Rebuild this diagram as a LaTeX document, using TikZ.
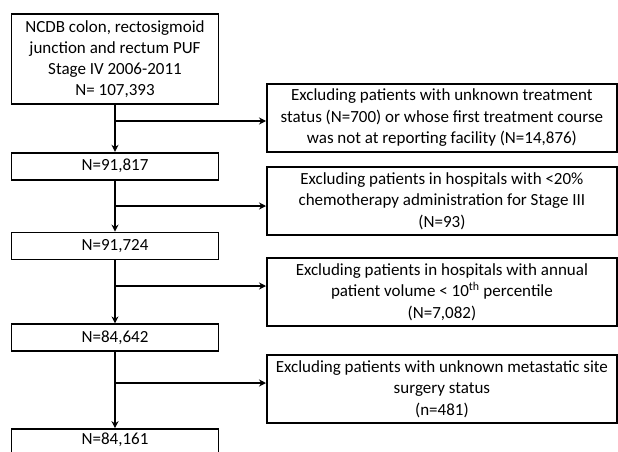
\documentclass[tikz,border=0pt]{standalone}
\usepackage{fontspec}
\setmainfont{Carlito}
\usepackage{tikz}
\usetikzlibrary{positioning,arrows.meta}

\begin{document}
\begin{tikzpicture}[x=1pt, y=-1pt,
  flowbox/.style={draw, line width=1.8pt, minimum width=207pt, minimum height=27pt, align=center, inner sep=1pt, font=\fontsize{17}{21}\selectfont},
  exbox/.style={draw, line width=1.8pt, minimum width=350pt, minimum height=68pt, align=center, inner sep=1pt, font=\fontsize{17}{21.5}\selectfont},
  arr/.style={-{Stealth[length=7pt, width=7pt]}, line width=1.8pt}]
  \useasboundingbox (0,0) rectangle (618,452);
  % main column
  \node[flowbox, minimum height=90pt, anchor=north] (n0) at (115,13) {NCDB colon, rectosigmoid\\junction and rectum PUF\\Stage IV 2006-2011\\N= 107,393};
  \node[flowbox, below=47pt of n0] (n1) {N=91,817};
  \node[flowbox, below=51pt of n1] (n2) {N=91,724};
  \node[flowbox, below=63pt of n2] (n3) {N=84,642};
  \node[flowbox, text height=13.5pt, text depth=10.5pt, below=76pt of n3] (n4) {N=84,161};
  % exclusions
  \node[exbox, anchor=north west] (ex1) at (266,83) {Excluding patients with unknown treatment\\status (N=700) or whose first treatment course\\was not at reporting facility (N=14,876)};
  \node[exbox, anchor=north west] (ex2) at (266,166) {Excluding patients in hospitals with <20\%\\chemotherapy administration for Stage III\\(N=93)};
  \node[exbox, anchor=north west] (ex3) at (266,257) {Excluding patients in hospitals with annual\\patient volume < 10\textsuperscript{th} percentile\\(N=7,082)};
  \node[exbox, anchor=north west] (ex4) at (266,354) {Excluding patients with unknown metastatic site\\surgery status\\(n=481)};
  % branch points
  \coordinate (b1) at (n0.south |- 0,121);
  \coordinate (b2) at (n1.south |- 0,206);
  \coordinate (b3) at (n2.south |- 0,286);
  \coordinate (b4) at (n3.south |- 0,383);
  \draw[arr] (n0) -- (n1);
  \draw[arr] (n1) -- (n2);
  \draw[arr] (n2) -- (n3);
  \draw[arr] (n3) -- (n4);
  \draw[arr] (b1) -- (b1 -| ex1.west);
  \draw[arr] (b2) -- (b2 -| ex2.west);
  \draw[arr] (b3) -- (b3 -| ex3.west);
  \draw[arr] (b4) -- (b4 -| ex4.west);
\end{tikzpicture}
\end{document}
